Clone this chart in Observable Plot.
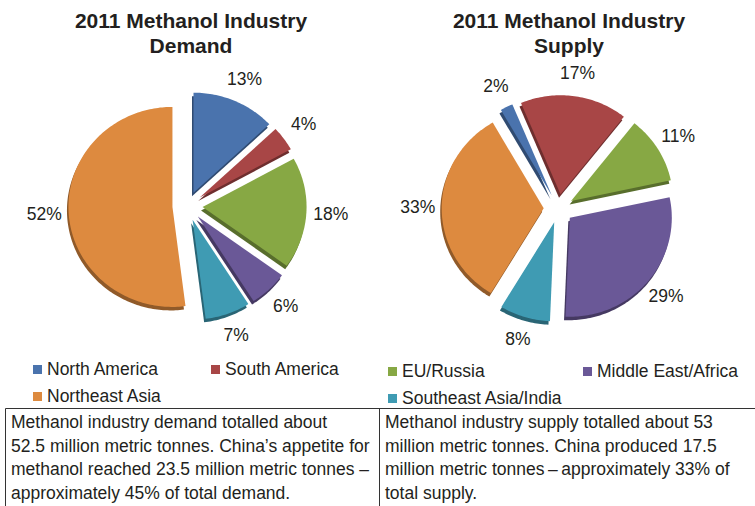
<!DOCTYPE html>
<html><head><meta charset="utf-8">
<script src="https://cdn.jsdelivr.net/npm/d3@7"></script>
<script src="https://cdn.jsdelivr.net/npm/@observablehq/plot@0.6"></script>
<style>
html,body{margin:0;padding:0;background:#fff;}
#root{position:relative;width:755px;height:506px;overflow:hidden;font-family:"Liberation Sans",Arial,sans-serif;}
.pie{position:absolute;top:0;background:transparent !important;}
#overlay{position:absolute;left:0;top:0;}
</style></head>
<body><div id="root"></div>
<script>
// ---- data ----
const regions = ["North America","South America","EU/Russia","Middle East/Africa","Southeast Asia/India","Northeast Asia"];
const demandShare = [13,4,18,6,7,52];
const supplyShare = [2,17,11,29,8,33];
const regionColors = ["#4a73ad","#a84646","#87a844","#6a5897","#3f9bb3","#dd8a3f"];
const demandTitle = ["2011 Methanol Industry","Demand"];
const supplyTitle = ["2011 Methanol Industry","Supply"];
const legendRow1 = ["North America","South America","EU/Russia","Middle East/Africa"];
const legendRow2 = ["Northeast Asia","","Southeast Asia/India",""];
const demandNote = ["Methanol industry demand totalled about","52.5 million metric tonnes. China\u2019s appetite for","methanol reached 23.5 million metric tonnes \u2013","approximately 45% of total demand."];
const supplyNote = ["Methanol industry supply totalled about 53","million metric tonnes. China produced 17.5","million metric tonnes\u2009\u2013\u2009approximately 33% of","total supply."];

const root = document.getElementById("root");
const ink = "#231f20";

function pieGeometry(values, startDeg, explode, labelR) {
  const s = startDeg * Math.PI / 180;
  const arcs = d3.pie().sort(null).startAngle(s).endAngle(s + 2 * Math.PI)(values);
  const pts = [], labels = [];
  arcs.forEach((a, i) => {
    const mid = (a.startAngle + a.endAngle) / 2;
    const ox = explode * Math.sin(mid), oy = explode * Math.cos(mid);
    pts.push({k: i, x: ox, y: oy});
    const n = Math.max(3, Math.ceil((a.endAngle - a.startAngle) / 0.02));
    for (let j = 0; j <= n; j++) {
      const t = a.startAngle + (a.endAngle - a.startAngle) * j / n;
      pts.push({k: i, x: ox + Math.sin(t), y: oy + Math.cos(t)});
    }
    pts.push({k: i, x: ox, y: oy});
    labels.push({x: labelR * Math.sin(mid), y: labelR * Math.cos(mid), text: values[i] + "%"});
  });
  return {pts, labels};
}

function pie(values, startDeg, left, cx, cy, rx, ry) {
  const W = 377, H = 352;
  const g = pieGeometry(values, startDeg, 0.145, 1.38);
  const chart = Plot.plot({
    width: W, height: H, margin: 0,
    x: {domain: [-cx / rx, (W - cx) / rx], axis: null},
    y: {domain: [-(H - cy) / ry, cy / ry], axis: null},
    color: {type: "identity"},
    marks: [
      Plot.line(g.pts, {x: "x", y: "y", z: "k", fill: d => d3.color(regionColors[d.k]).darker(1.2).formatHex(), stroke: "none", dx: -1.5, dy: 3.5, curve: "linear"}),
      Plot.line(g.pts, {x: "x", y: "y", z: "k", fill: d => regionColors[d.k], stroke: "none", curve: "linear"}),
      Plot.text(g.labels, {x: "x", y: "y", text: "text", fontSize: 17.5, fill: ink, fontFamily: "Liberation Sans, Arial, sans-serif"})
    ]
  });
  chart.classList.add("pie");
  chart.style.left = left + "px";
  root.appendChild(chart);
}

pie(demandShare, 0, 0, 187, 205.5, 104, 100);
pie(supplyShare, -30, 378, 180, 208, 102, 99);

// ---- overlay: titles, legend, table ----
const svg = d3.select(root).append("svg").attr("id", "overlay").attr("width", 755).attr("height", 506)
  .attr("font-family", "Liberation Sans, Arial, sans-serif").attr("fill", ink);

[[demandTitle, 191], [supplyTitle, 569]].forEach(([lines, x]) => {
  lines.forEach((t, i) => svg.append("text").attr("x", x).attr("y", 28 + i * 25).attr("text-anchor", "middle")
    .attr("font-size", 21).attr("font-weight", "bold").text(t));
});

const legX = [33, 211, 388, 583];
const legRows = [[legendRow1, [375, 375, 377, 377]], [legendRow2, [402, 402, 404, 404]]];
legRows.forEach(([row, ys]) => {
  row.forEach((name, i) => {
    if (!name) return;
    const c = regionColors[regions.indexOf(name)];
    svg.append("rect").attr("x", legX[i]).attr("y", ys[i] - 10).attr("width", 9).attr("height", 9).attr("fill", c);
    svg.append("text").attr("x", legX[i] + 14).attr("y", ys[i]).attr("font-size", 17.5).text(name);
  });
});

svg.append("path").attr("d", "M5.5,506V408.5H755M379.5,408.5V506").attr("fill", "none").attr("stroke", "#333").attr("stroke-width", 1);
[[demandNote, 11], [supplyNote, 385]].forEach(([lines, x]) => {
  lines.forEach((t, i) => svg.append("text").attr("x", x).attr("y", 428 + i * 23.5).attr("font-size", 17.5).text(t));
});
</script>
</body></html>
